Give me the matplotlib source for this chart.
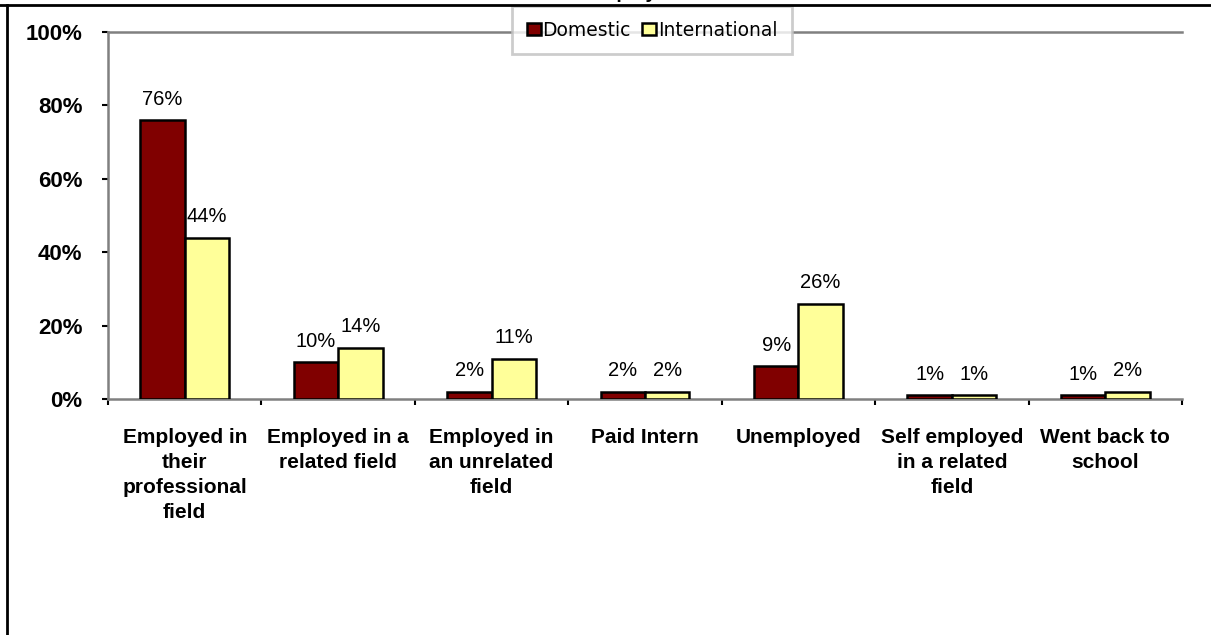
import matplotlib
matplotlib.use("Agg")
import matplotlib.pyplot as plt
import numpy as np
from matplotlib.lines import Line2D
from matplotlib.ticker import FixedLocator

plt.rcParams['font.family'] = ['Liberation Sans', 'DejaVu Sans']

categories = ["Employed in\ntheir\nprofessional\nfield",
              "Employed in a\nrelated field",
              "Employed in\nan unrelated\nfield",
              "Paid Intern",
              "Unemployed",
              "Self employed\nin a related\nfield",
              "Went back to\nschool"]
domestic = [76, 10, 2, 2, 9, 1, 1]
international = [44, 14, 11, 2, 26, 1, 2]
series_names = ["Domestic", "International"]
yticks = [0, 20, 40, 60, 80, 100]
title = "Employment"

W, H = 1211, 635
fig = plt.figure(figsize=(W / 100, H / 100), dpi=100)
ax = fig.add_axes([108 / W, 1 - 399 / H, (1182 - 108) / W, (399 - 32) / H])

x = np.arange(len(categories))
bw = 0.29
c_dom = "#800000"
c_int = "#FFFF99"
b1 = ax.bar(x - bw / 2, domestic, bw, color=c_dom, edgecolor="black", linewidth=1.8, label=series_names[0], zorder=3)
b2 = ax.bar(x + bw / 2, international, bw, color=c_int, edgecolor="black", linewidth=1.8, label=series_names[1], zorder=3)

for bars, vals in ((b1, domestic), (b2, international)):
    for r, v in zip(bars, vals):
        ax.annotate(f"{v}%", (r.get_x() + r.get_width() / 2, v), xytext=(0, 11),
                    textcoords="offset points", ha="center", va="baseline", fontsize=14.5)

ax.set_xlim(-0.5, len(categories) - 0.5)
ax.set_ylim(0, 100)
ax.set_yticks(yticks)
ax.set_yticklabels([f"{t}%" for t in yticks], fontsize=16, fontweight="bold")
ax.set_xticks(x)
ax.set_xticklabels(categories, fontsize=15, fontweight="bold", linespacing=1.4, va="top")
ax.xaxis.set_minor_locator(FixedLocator(np.arange(-0.5, len(categories), 1.0)))
ax.tick_params(axis="x", which="major", length=0, pad=21)
ax.tick_params(axis="x", which="minor", length=4.5, width=1.5, color="black", direction="out")
ax.tick_params(axis="y", length=4.5, width=1.5, color="black", direction="out", pad=14)

ax.spines["right"].set_visible(False)
for s in ("left", "bottom", "top"):
    ax.spines[s].set_color("#808080")
    ax.spines[s].set_linewidth(1.8)

leg = ax.legend(loc="center", bbox_to_anchor=(652 / W, 1 - 30 / H), bbox_transform=fig.transFigure,
                ncol=2, frameon=True, fancybox=False, handlelength=0.75, handleheight=0.65,
                handletextpad=0.1, columnspacing=0.6, borderpad=0.75, borderaxespad=0,
                prop={"family": "DejaVu Sans", "size": 13.5})
leg.get_frame().set_edgecolor("#c0c0c0")
leg.get_frame().set_linewidth(2)
leg.set_zorder(10)

# figure border (partially visible)
fig.add_artist(Line2D([0, 1], [1 - 5 / H, 1 - 5 / H], transform=fig.transFigure, color="black", lw=2))
fig.add_artist(Line2D([6.5 / W, 6.5 / W], [0, 1 - 5 / H], transform=fig.transFigure, color="black", lw=2))
fig.text(645 / W, 1 + 1.5 / H, title, ha="center", va="baseline", fontsize=14, fontweight="bold")

fig.savefig("out.png", dpi=100)
